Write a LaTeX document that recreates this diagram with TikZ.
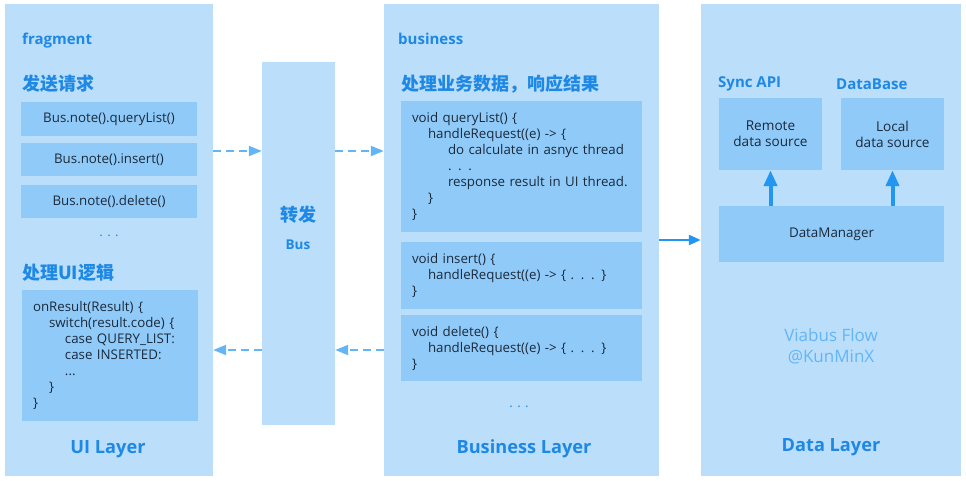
\documentclass[tikz,border=0pt]{standalone}
\usepackage{fontspec}
\setmainfont{Open Sans}
\newfontfamily\cjk{Noto Sans CJK SC}
\usetikzlibrary{positioning,arrows.meta}

\definecolor{panel}{HTML}{BBDEFB}
\definecolor{card}{HTML}{90CAF9}
\definecolor{head}{HTML}{1E88E5}
\definecolor{ink}{HTML}{1B2A3A}
\definecolor{dash}{HTML}{64B5F6}
\definecolor{flow}{HTML}{2196F3}

\tikzset{
    layer/.style={fill=panel,draw=none,inner sep=0pt},
    card/.style={fill=card,draw=none,text=ink,inner sep=0pt,
        font=\fontsize{13.3}{16}\selectfont},
    codecard/.style={card,align=left,text width=#1,inner sep=11pt,anchor=center},
    title/.style={text=head,inner sep=0pt,anchor=west,font=\bfseries\fontsize{15}{17}\selectfont},
    cntitle/.style={text=head,inner sep=0pt,anchor=west,font=\cjk\bfseries\fontsize{18}{20}\selectfont},
    layername/.style={text=head,inner sep=0pt,font=\bfseries\fontsize{18.2}{20}\selectfont},
    dots/.style={text=head,inner sep=0pt,font=\fontsize{13}{14}\selectfont},
    request/.style={draw=dash,line width=2pt,dash pattern=on 8pt off 5pt,
        -{Triangle[length=13pt,width=10pt]}},
    call/.style={draw=flow,line width=2.5pt,-{Triangle[length=12pt,width=10pt]}},
    fetch/.style={draw=flow,line width=4pt,-{Triangle[length=16pt,width=13pt]}}
}

\begin{document}
\begin{tikzpicture}[x=1pt,y=-1pt]
    \useasboundingbox (0,0) rectangle (966,481);
    \def\ind{\hspace*{16pt}}

    % Layers
    \node[layer,minimum width=208,minimum height=472] (ui) at (109,240) {};
    \node[layer,minimum width=73,minimum height=363] (bus) at (298.5,243.5) {};
    \node[layer,minimum width=275,minimum height=472] (biz) at (521.5,240) {};
    \node[layer,minimum width=260,minimum height=472] (data) at (831,240) {};

    % UI layer
    \node[title] (fragment) at (22,40.5) {fragment};
    \node[cntitle] (send) at (22,84) {发送请求};
    \node[card,minimum width=176,minimum height=34] (query) at (109,119) {Bus.note().queryList()};
    \node[card,minimum width=176,minimum height=33] (insert) at (109,159.5) {Bus.note().insert()};
    \node[card,minimum width=176,minimum height=33] (delete) at (109,201.5) {Bus.note().delete()};
    \node[dots] (uidots) at (109,236) {. . .};
    \node[cntitle] (uilogic) at (22,273) {处理UI逻辑};
    \node[codecard=154,minimum height=131] (result) at (110,355.5)
        {onResult(Result) \{\\
         \ind switch(result.code) \{\\
         \ind\ind case QUERY\_LIST:\\
         \ind\ind case INSERTED:\\
         \ind\ind ...\\
         \ind \}\\
         \}};
    \node[layername] (uiname) at (108,449) {UI Layer};

    % Bus
    \node[text=head,inner sep=0pt,font=\cjk\bfseries\fontsize{18}{20}\selectfont] (forward) at (298,215) {转发};
    \node[text=head,inner sep=0pt,font=\bfseries\fontsize{13.5}{15}\selectfont] (busname) at (298,245) {Bus};

    % Business layer
    \node[title] (business) at (398,39) {business};
    \node[cntitle] (handle) at (401,84) {处理业务数据，响应结果};
    \node[codecard=219,minimum height=131] (bquery) at (521.5,166.5)
        {void queryList() \{\\
         \ind handleRequest((e) -> \{\\
         \ind\hspace*{20pt}do calculate in asnyc thread\\
         \ind\hspace*{20pt}. . .\\
         \ind\hspace*{20pt}response result in UI thread.\\
         \ind \}\\
         \}};
    \node[codecard=219,minimum height=63] (binsert) at (521.5,275.5)
        {void insert() \{\\
         \ind handleRequest((e) -> \{ . . . \}\\
         \}};
    \node[codecard=219,minimum height=62] (bdelete) at (521.5,348)
        {void delete() \{\\
         \ind handleRequest((e) -> \{ . . . \}\\
         \}};
    \node[dots] (bizdots) at (519,407) {. . .};
    \node[layername] (bizname) at (524,449) {Business Layer};

    % Data layer
    \node[title] (sync) at (718,84) {Sync API};
    \node[title] (database) at (836,84) {DataBase};
    \node[card,align=center,minimum width=103,minimum height=72,
        font=\fontsize{13.6}{16}\selectfont] (remote) at (770.5,134) {Remote\\data source};
    \node[card,align=center,minimum width=103,minimum height=72,
        font=\fontsize{13.6}{16}\selectfont] (local) at (892.5,134) {Local\\data source};
    \node[card,minimum width=225,minimum height=56,
        font=\fontsize{13.4}{16}\selectfont] (manager) at (831.5,234) {DataManager};
    \node[text=dash,align=center,inner sep=0pt,
        font=\fontsize{17}{21}\selectfont] (mark) at (831,346) {Viabus Flow\\@KunMinX};
    \node[layername] (dataname) at (831,447) {Data Layer};

    % Connectors
    \coordinate (out) at (0,151);
    \coordinate (back) at (0,350);
    \draw[request] (ui.east |- out) -- (bus.west |- out);
    \draw[request] (bus.east |- out) -- (biz.west |- out);
    \draw[request] (biz.west |- back) -- (bus.east |- back);
    \draw[request] (bus.west |- back) -- (ui.east |- back);
    \draw[call] (biz.east) -- (data.west);
    \draw[fetch] (manager.north -| remote) -- (remote.south);
    \draw[fetch] (manager.north -| local) -- (local.south);
\end{tikzpicture}
\end{document}
